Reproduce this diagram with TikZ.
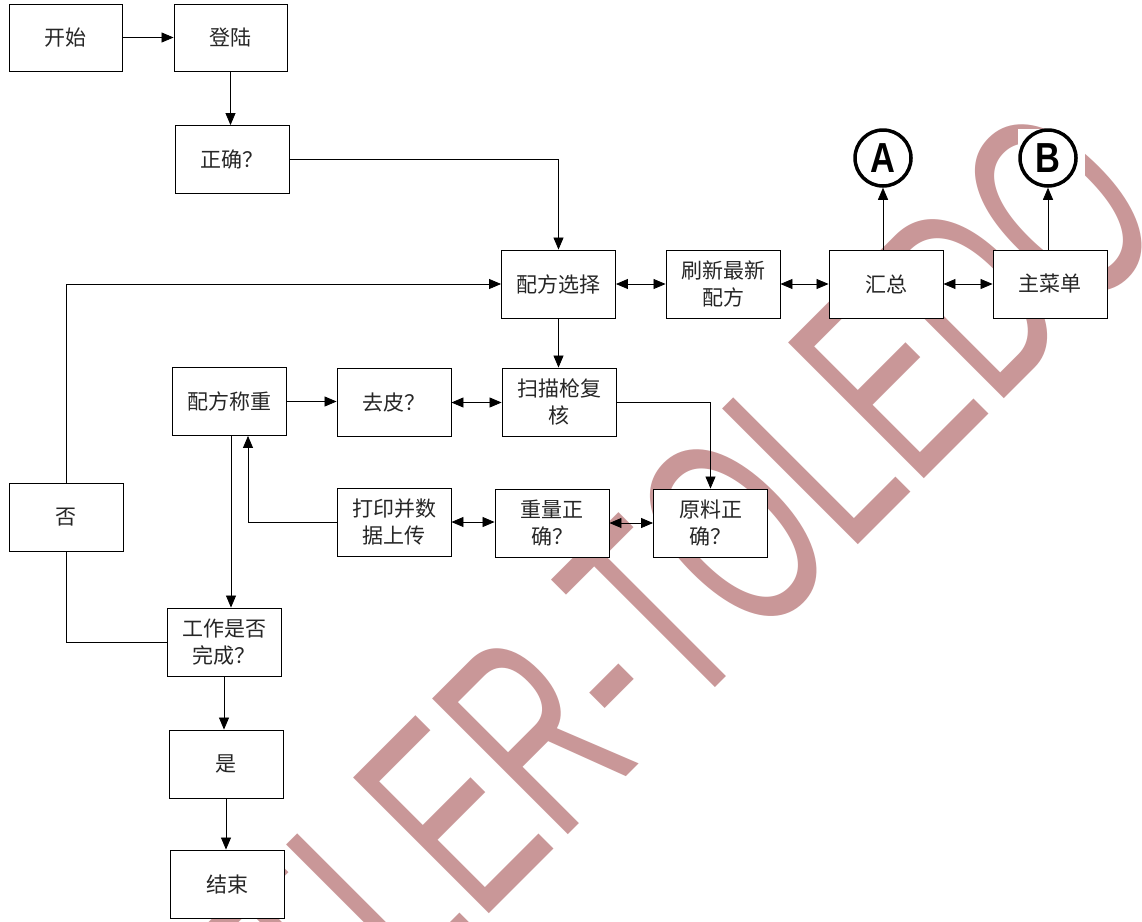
\documentclass[tikz,border=0pt]{standalone}
\usepackage{fontspec}
\newfontfamily\cjk{Noto Sans CJK SC}
\newfontfamily\wmfont{Liberation Sans}
\usetikzlibrary{arrows.meta}
\definecolor{wmpink}{RGB}{201,151,152}
\begin{document}
\begin{tikzpicture}[x=1pt,y=-1pt,
 box/.style={draw=black, line width=0.9pt, fill=white, minimum width=114pt, minimum height=68pt, inner sep=0pt, align=center, font=\cjk\fontsize{21}{27}\selectfont, text=black!85},
 conn/.style={draw=black, line width=0.8pt},
 arr/.style={conn, -{Triangle[length=12pt,width=10pt]}},
 darr/.style={conn, {Triangle[length=12pt,width=10pt]}-{Triangle[length=12pt,width=10pt]}},
 marker/.style={circle, draw=black, line width=3.5pt, fill=white, minimum size=56pt, inner sep=0pt, font=\wmfont\bfseries\fontsize{42}{42}\selectfont},
 wmark/.style={text=wmpink, inner sep=0pt, font=\wmfont\fontsize{279}{279}\selectfont}
]
\useasboundingbox[fill=white] (0,0) rectangle (1142,921);
% watermark
\begin{scope}
\clip (0,0) rectangle (1142,921);
\node[wmark, anchor=base west, rotate=45] (wm) at (479,924) {\scalebox{0.605}[1]{\llap{METTL}ER-TOLEDO}};
\end{scope}
\fill[white] (1018,129) rectangle (1085,189);
% nodes
\node[box, minimum width=113pt, minimum height=67pt] (start) at (65.5,37.5) {开始};
\node[box, minimum width=113pt, minimum height=67pt] (login) at (230.5,37.5) {登陆};
\node[box] (ok) at (232,159.5) {正确？};
\node[box] (recipe) at (558.5,284) {配方选择};
\node[box] (refresh) at (723,284) {刷新最新\\配方};
\node[box] (summary) at (886,284) {汇总};
\node[box] (menu) at (1050,284) {主菜单};
\node[marker] (A) at (883,158) {\scalebox{0.82}[1]{A}};
\node[marker] (B) at (1048,158) {\scalebox{0.82}[1]{B}};
\node[box] (weigh) at (229,401.5) {配方称重};
\node[box] (tare) at (394,402.5) {去皮？};
\node[box] (scan) at (559,402) {扫描枪复\\核};
\node[box] (no) at (66,517) {否};
\node[box] (print) at (394,522) {打印并数\\据上传};
\node[box] (wok) at (552,523) {重量正\\确？};
\node[box] (mok) at (710.5,523) {原料正\\确？};
\node[box] (done) at (224,642) {工作是否\\完成？};
\node[box] (yes) at (226,764) {是};
\node[box] (finish) at (227,884) {结束};
% helper coordinates
\coordinate (weighin) at ([xshift=19pt]weigh.south);
\coordinate (weighout) at ([xshift=2pt]weigh.south);
% connectors
\draw[arr] (start) -- (login);
\draw[arr] (login.south) -- (login.south |- ok.north);
\draw[arr] (ok.east) -| (recipe.north);
\draw[arr] (no.north) |- (recipe.west);
\draw[darr] (recipe) -- (refresh);
\draw[darr] (refresh) -- (summary);
\draw[darr] (summary) -- (menu);
\draw[arr] (summary.north -| A) -- (A);
\draw[arr] (menu.north -| B) -- (B);
\draw[arr] (recipe.south) -- (recipe.south |- scan.north);
\draw[arr] (weigh.east) -- (weigh.east -| tare.west);
\draw[darr] (tare.east) -- (tare.east -| scan.west);
\draw[arr] (scan.east) -| (mok.north);
\draw[darr] (wok.east) -- (wok.east -| mok.west);
\draw[darr] (print.east) -- (print.east -| wok.west);
\draw[arr] (print.west) -| (weighin);
\draw[arr] (weighout) -- (weighout |- done.north);
\draw[conn] (done.west) -| (no.south);
\draw[arr] (done.south) -- (done.south |- yes.north);
\draw[arr] (yes.south) -- (yes.south |- finish.north);
\end{tikzpicture}
\end{document}
